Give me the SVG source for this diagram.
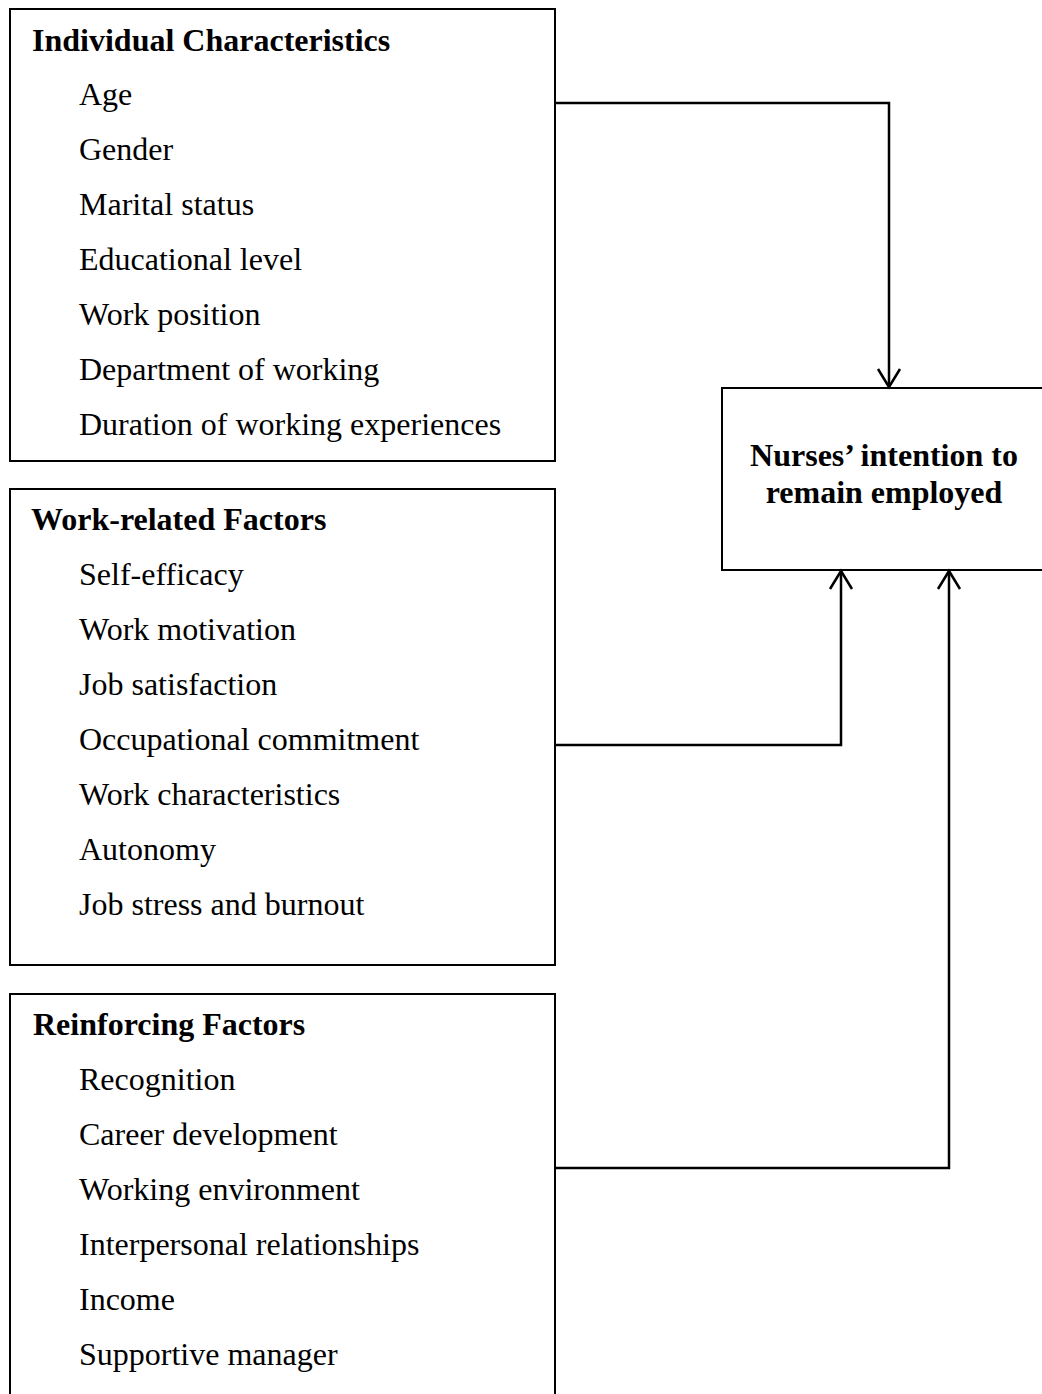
<svg xmlns="http://www.w3.org/2000/svg" width="1042" height="1394" viewBox="0 0 1042 1394">
<style>
.box{fill:#fff;stroke:#000;stroke-width:2}
.h{font-family:"Liberation Serif","Times New Roman",serif;font-weight:bold;font-size:32px;fill:#000}
.t{font-family:"Liberation Serif","Times New Roman",serif;font-size:32px;fill:#000}
.c{fill:none;stroke:#000;stroke-width:2.5}
</style>
<rect width="1042" height="1394" fill="#fff"/>
<g id="individual">
<rect class="box" x="10" y="9" width="545" height="452"/>
<text class="h" x="32" y="51">Individual Characteristics</text>
<text class="t" x="79" y="105">Age</text>
<text class="t" x="79" y="160">Gender</text>
<text class="t" x="79" y="215">Marital status</text>
<text class="t" x="79" y="270">Educational level</text>
<text class="t" x="79" y="325">Work position</text>
<text class="t" x="79" y="380">Department of working</text>
<text class="t" x="79" y="435">Duration of working experiences</text>
</g>
<g id="work">
<rect class="box" x="10" y="489" width="545" height="476"/>
<text class="h" x="31" y="530">Work-related Factors</text>
<text class="t" x="79" y="585">Self-efficacy</text>
<text class="t" x="79" y="640">Work motivation</text>
<text class="t" x="79" y="695">Job satisfaction</text>
<text class="t" x="79" y="750">Occupational commitment</text>
<text class="t" x="79" y="805">Work characteristics</text>
<text class="t" x="79" y="860">Autonomy</text>
<text class="t" x="79" y="915">Job stress and burnout</text>
</g>
<g id="reinforcing">
<rect class="box" x="10" y="994" width="545" height="420"/>
<text class="h" x="33" y="1035">Reinforcing Factors</text>
<text class="t" x="79" y="1090">Recognition</text>
<text class="t" x="79" y="1145">Career development</text>
<text class="t" x="79" y="1200">Working environment</text>
<text class="t" x="79" y="1255">Interpersonal relationships</text>
<text class="t" x="79" y="1310">Income</text>
<text class="t" x="79" y="1365">Supportive manager</text>
</g>
<g id="outcome">
<rect class="box" x="722" y="388" width="330" height="182"/>
<text class="h" x="884" y="466" text-anchor="middle">Nurses’ intention to</text>
<text class="h" x="884" y="503" text-anchor="middle">remain employed</text>
</g>
<g id="connectors">
<path class="c" d="M555 103 H889 V387"/>
<path class="c" d="M878 369 L889 387 L900 369"/>
<path class="c" d="M555 745 H841 V571"/>
<path class="c" d="M830 589 L841 571 L852 589"/>
<path class="c" d="M555 1168 H949 V571"/>
<path class="c" d="M938 589 L949 571 L960 589"/>
</g>
</svg>
